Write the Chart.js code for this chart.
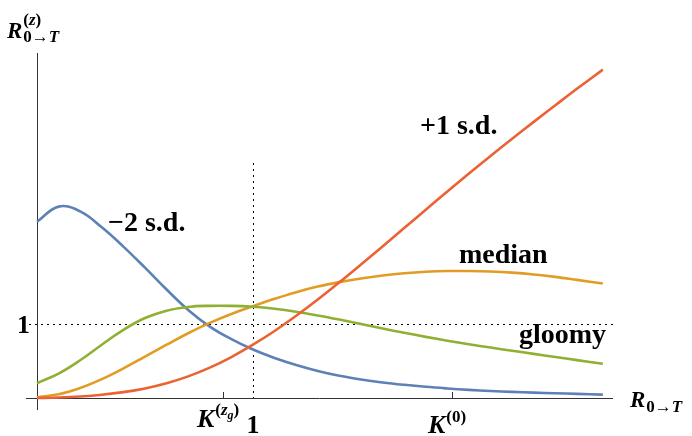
<!DOCTYPE html>
<html>
<head>
<meta charset="utf-8">
<script src="https://cdn.jsdelivr.net/npm/chart.js@4.4.1/dist/chart.umd.min.js"></script>
<style>
  html, body { margin: 0; padding: 0; background: #fff; }
  #wrap { width: 692px; height: 436px; }
</style>
</head>
<body>
<div id="wrap"><canvas id="chart"></canvas></div>
<script>
// values (x in units of the strike, 1 = the dotted line)
const xValues = [0, 0.1, 0.2, 0.3, 0.4, 0.5, 0.6, 0.7, 0.8, 0.9, 1.0, 1.1, 1.2, 1.3,
  1.4, 1.5, 1.6, 1.7, 1.8, 1.9, 2.0, 2.1, 2.2, 2.3, 2.4, 2.5, 2.62];
const minus2sd = [2.38, 2.585, 2.52, 2.305, 2.045, 1.76, 1.465, 1.19, 0.965, 0.795, 0.655, 0.54, 0.445, 0.365,
  0.30, 0.25, 0.21, 0.178, 0.151, 0.129, 0.11, 0.095, 0.083, 0.073, 0.064, 0.056, 0.046];
const median = [0.01, 0.05, 0.135, 0.255, 0.40, 0.56, 0.72, 0.875, 1.015, 1.135, 1.24, 1.34, 1.43, 1.505,
  1.565, 1.615, 1.655, 1.685, 1.705, 1.715, 1.715, 1.708, 1.693, 1.669, 1.636, 1.596, 1.546];
const gloomy = [0.20, 0.33, 0.51, 0.72, 0.92, 1.08, 1.18, 1.23, 1.245, 1.245, 1.232, 1.205, 1.165, 1.115,
  1.059, 0.999, 0.939, 0.881, 0.826, 0.774, 0.726, 0.681, 0.638, 0.596, 0.554, 0.512, 0.462];
const plus1sd = [0, 0.007, 0.021, 0.044, 0.079, 0.129, 0.199, 0.292, 0.41, 0.553, 0.72, 0.905, 1.11, 1.33,
  1.562, 1.802, 2.047, 2.295, 2.543, 2.789, 3.032, 3.27, 3.502, 3.73, 3.954, 4.176, 4.435];

const strikeRef = 1;   // dotted vertical
const levelRef = 1;    // dotted horizontal
const kGloomy = 0.861; // K^(zg) tick
const kZero = 1.921;   // K^(0) tick
const xMax = 2.667;
const yMax = 4.66;

const serif = '"Liberation Serif", "Times New Roman", serif';
const pts = (ys) => xValues.map((x, i) => ({ x: x, y: ys[i] }));

function line(label, ys, color) {
  return {
    label: label,
    data: pts(ys),
    borderColor: color,
    backgroundColor: color,
    borderWidth: 2.6,
    pointRadius: 0,
    tension: 0.4,
    clip: false,
  };
}

// draws a run of pieces: [text, size, italic, dy]
function run(ctx, x, y, pieces) {
  let cx = x;
  pieces.forEach(([t, size, italic, dy]) => {
    ctx.font = `${italic ? 'italic ' : ''}bold ${size}px ${serif}`;
    ctx.fillText(t, cx, y + (dy || 0));
    cx += ctx.measureText(t).width;
  });
  return cx;
}

const decorations = {
  id: 'decorations',
  beforeDatasetsDraw(chart) {
    const { ctx, scales: { x, y } } = chart;
    const x0 = x.getPixelForValue(0);
    const y0 = y.getPixelForValue(0);
    ctx.save();
    ctx.strokeStyle = '#333';
    ctx.lineWidth = 1;
    // axes
    ctx.beginPath();
    ctx.moveTo(x0 - 11, y0 + 0.5);
    ctx.lineTo(x.getPixelForValue(xMax), y0 + 0.5);
    ctx.moveTo(x0 + 0.5, y.getPixelForValue(yMax));
    ctx.lineTo(x0 + 0.5, y0 + 12);
    ctx.stroke();
    // ticks
    [kGloomy, kZero].forEach((k) => {
      const px = Math.round(x.getPixelForValue(k)) + 0.5;
      ctx.beginPath();
      ctx.moveTo(px, y0);
      ctx.lineTo(px, y0 - 6);
      ctx.stroke();
    });
    // dotted reference lines
    ctx.setLineDash([2, 4]);
    ctx.strokeStyle = '#000';
    const rx = Math.round(x.getPixelForValue(strikeRef)) + 0.5;
    ctx.beginPath();
    ctx.moveTo(rx, 163);
    ctx.lineTo(rx, y0);
    const ry = Math.round(y.getPixelForValue(levelRef)) + 0.5;
    ctx.moveTo(x0 - 8, ry);
    ctx.lineTo(x.getPixelForValue(xMax), ry);
    ctx.stroke();
    ctx.restore();
  },
  afterDraw(chart) {
    const { ctx, scales: { x, y } } = chart;
    ctx.save();
    ctx.fillStyle = '#000';
    ctx.textBaseline = 'alphabetic';

    // y axis label
    let cx = run(ctx, 7, 38, [['R', 23, true]]);
    run(ctx, cx + 1, 25, [['(', 17, false], ['z', 17, true], [')', 17, false]]);
    run(ctx, cx + 1, 42, [['0→', 17, false], ['T', 17, true]]);

    // x axis label
    cx = run(ctx, 630, 407, [['R', 23, true]]);
    run(ctx, cx + 1, 412, [['0→', 17, false], ['T', 17, true]]);

    // y tick "1"
    ctx.textAlign = 'right';
    ctx.font = `bold 26px ${serif}`;
    ctx.fillText('1', x.getPixelForValue(0) - 7, y.getPixelForValue(levelRef) + 9);

    // x tick labels
    ctx.textAlign = 'center';
    ctx.fillText('1', x.getPixelForValue(strikeRef), 433);
    ctx.textAlign = 'left';
    cx = run(ctx, 197, 427, [['K', 26, true]]);
    cx = run(ctx, cx + 1, 415, [['(', 17, false], ['z', 17, true]]);
    cx = run(ctx, cx, 419, [['g', 12, true]]);
    run(ctx, cx, 415, [[')', 17, false]]);
    cx = run(ctx, 428, 433, [['K', 26, true]]);
    run(ctx, cx + 1, 422, [['(0)', 17, false]]);

    // curve labels
    ctx.font = `bold 28px ${serif}`;
    ctx.fillText('−2 s.d.', 108, 231);
    ctx.fillText('+1 s.d.', 420, 134);
    ctx.fillText('median', 459, 263);
    ctx.textAlign = 'right';
    ctx.fillText('gloomy', 606, 343);
    ctx.restore();
  },
};

new Chart(document.getElementById('chart'), {
  type: 'line',
  data: {
    datasets: [
      line('+1 s.d.', plus1sd, '#EB6235'),
      line('gloomy', gloomy, '#8FB032'),
      line('median', median, '#E19C24'),
      line('−2 s.d.', minus2sd, '#5E81B5'),
    ],
  },
  options: {
    responsive: true,
    maintainAspectRatio: false,
    animation: false,
    layout: { padding: { left: 37, right: 79, top: 53, bottom: 38 } },
    scales: {
      x: { type: 'linear', min: 0, max: xMax, display: false },
      y: { type: 'linear', min: 0, max: yMax, display: false },
    },
    plugins: {
      legend: { display: false },
      tooltip: { enabled: false },
    },
  },
  plugins: [decorations],
});
</script>
</body>
</html>
